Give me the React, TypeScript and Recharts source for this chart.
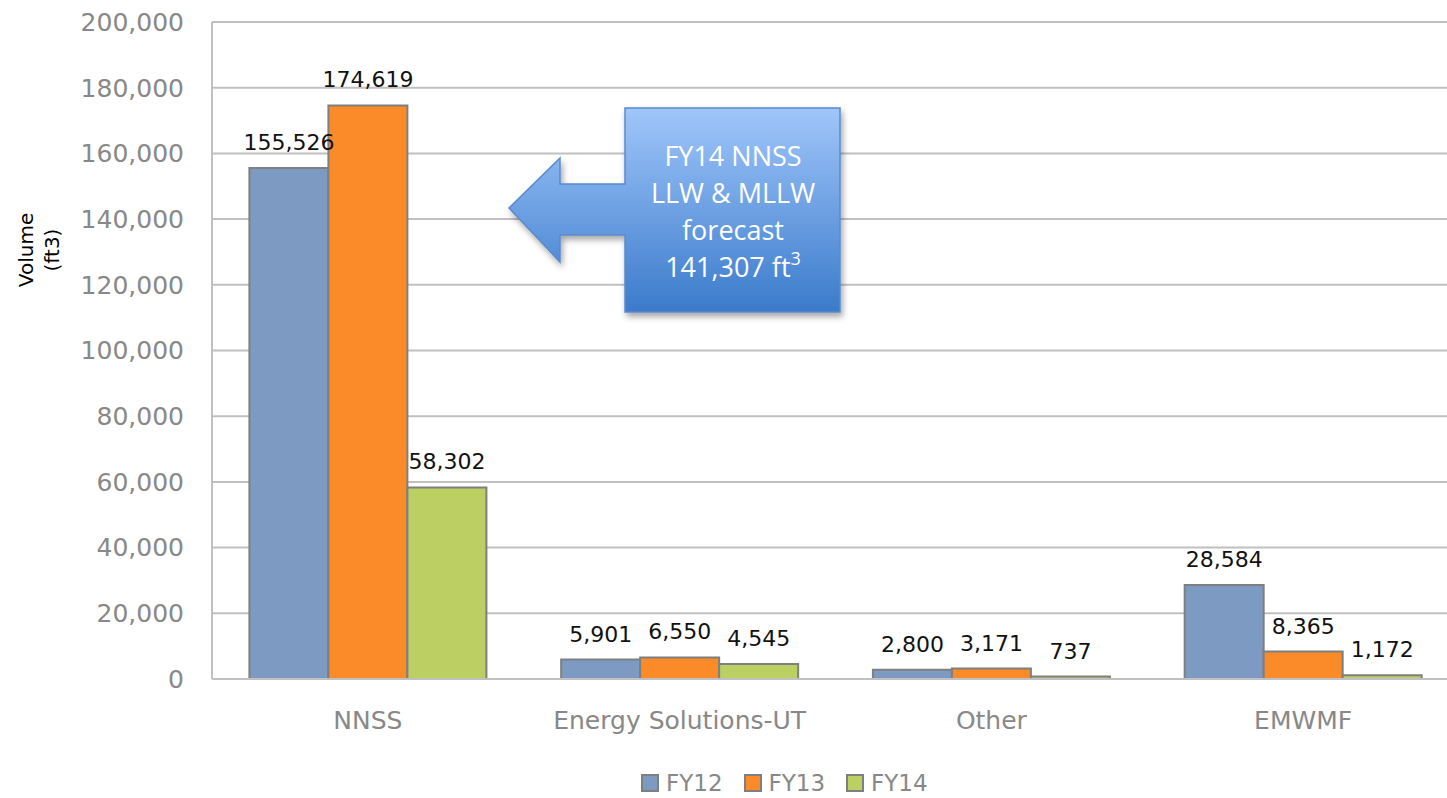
import { BarChart, Bar, XAxis, YAxis, CartesianGrid, Legend, LabelList, Customized } from "recharts";

const sites = ["NNSS", "Energy Solutions-UT", "Other", "EMWMF"];
const fy12 = [155526, 5901, 2800, 28584];
const fy13 = [174619, 6550, 3171, 8365];
const fy14 = [58302, 4545, 737, 1172];
const yTicks = [0, 20000, 40000, 60000, 80000, 100000, 120000, 140000, 160000, 180000, 200000];

const series = [
  { key: "fy12", name: "FY12", color: "#7C9AC2" },
  { key: "fy13", name: "FY13", color: "#FB8A29" },
  { key: "fy14", name: "FY14", color: "#BBCF63" },
];

const data = sites.map((site, i) => ({ site, fy12: fy12[i], fy13: fy13[i], fy14: fy14[i] }));

const fmt = (v: number) => v.toLocaleString("en-US");
const FONT = "'DejaVu Sans', Verdana, sans-serif";

function AxisTitle() {
  return (
    <text transform="rotate(-90)" fontFamily={FONT} fontSize={20} fill="#000" textAnchor="middle">
      <tspan x={-250} y={33}>Volume</tspan>
      <tspan x={-250} y={59}>(ft3)</tspan>
    </text>
  );
}

function Callout() {
  const path = "M625,108 H840 V312 H625 V235 H560 V262 L509,208 L560,158 V184 H625 Z";
  const lines = ["FY14 NNSS", "LLW & MLLW", "forecast"];
  return (
    <g>
      <defs>
        <linearGradient id="calloutFill" x1="0" y1="0" x2="0" y2="1">
          <stop offset="0%" stopColor="#A0C6FA" />
          <stop offset="100%" stopColor="#3B7BCB" />
        </linearGradient>
        <filter id="calloutShadow" x="-10%" y="-10%" width="130%" height="130%">
          <feDropShadow dx="2" dy="4" stdDeviation="3" floodColor="#000" floodOpacity="0.35" />
        </filter>
      </defs>
      <path d={path} fill="url(#calloutFill)" stroke="#5A8BCB" strokeWidth={1.5} filter="url(#calloutShadow)" />
      <g fontFamily="'Open Sans', sans-serif" fontSize={27} fill="#fff" textAnchor="middle">
        {lines.map((t, i) => (
          <text key={t} x={733} y={166 + i * 37}>{t}</text>
        ))}
        <text x={733} y={277}>
          141,307 ft<tspan dy={-12} fontSize={18}>3</tspan>
        </text>
      </g>
    </g>
  );
}

function LegendContent() {
  return (
    <div style={{ display: "flex", alignItems: "center", fontFamily: FONT, fontSize: 23, lineHeight: "26px", height: 26, color: "#888", whiteSpace: "nowrap" }}>
      {series.map((s) => (
        <div key={s.key} style={{ display: "flex", alignItems: "center", marginRight: 21 }}>
          <span style={{ display: "inline-block", width: 14, height: 14, background: s.color, border: "2px solid #7F7F7F", marginRight: 7 }} />
          <span>{s.name}</span>
        </div>
      ))}
    </div>
  );
}

export default function App() {
  return (
    <div style={{ position: "absolute", left: 0, top: 0, width: 1447, height: 798, overflow: "hidden", background: "#fff" }}>
      <BarChart
        width={1462}
        height={798}
        data={data}
        margin={{ top: 22, right: 3, bottom: 59, left: 0 }}
        barCategoryGap="12%"
        barGap={0}
      >
        <CartesianGrid vertical={false} stroke="#C0C0C0" strokeWidth={2} />
        <XAxis
          dataKey="site"
          height={60}
          axisLine={{ stroke: "#C0C0C0", strokeWidth: 2 }}
          tickLine={false}
          tickSize={0}
          tickMargin={32}
          tick={{ fill: "#888", fontSize: 25, fontFamily: FONT }}
        />
        <YAxis
          width={212}
          domain={[0, 200000]}
          ticks={yTicks}
          tickFormatter={fmt}
          axisLine={{ stroke: "#C0C0C0", strokeWidth: 2 }}
          tickLine={false}
          tickSize={0}
          tickMargin={28}
          tick={{ fill: "#888", fontSize: 25, fontFamily: FONT }}
        />
        {series.map((s) => (
          <Bar key={s.key} dataKey={s.key} name={s.name} fill={s.color} stroke="#7F7F7F" strokeWidth={2} isAnimationActive={false}>
            <LabelList dataKey={s.key} position="top" offset={18} formatter={fmt} fill="#111" fontSize={22} fontFamily={FONT} />
          </Bar>
        ))}
        <Legend
          layout="horizontal"
          verticalAlign="middle"
          align="center"
          content={<LegendContent />}
          wrapperStyle={{ left: 641, top: 770, width: 340, height: 26 }}
        />
        <Customized component={<AxisTitle />} />
        <Customized component={<Callout />} />
      </BarChart>
    </div>
  );
}
